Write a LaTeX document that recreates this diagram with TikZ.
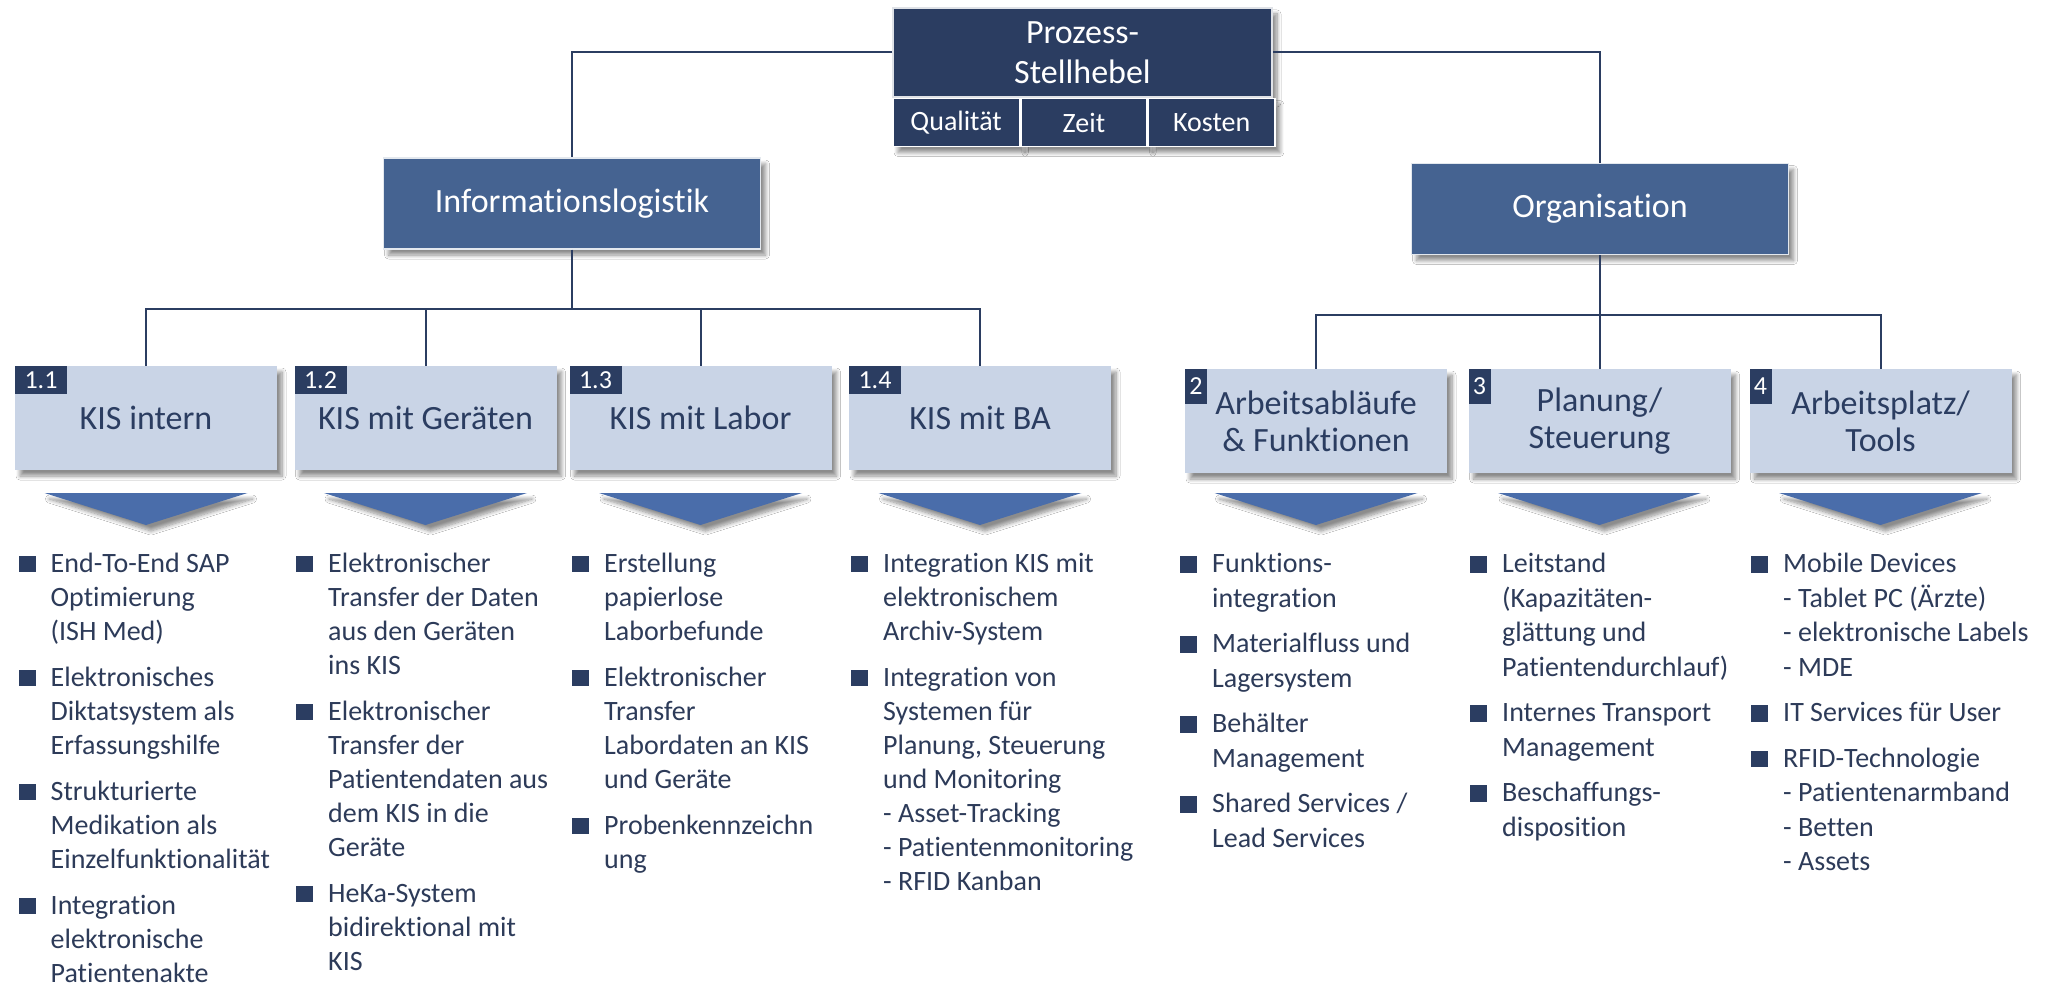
\documentclass[tikz,border=0pt]{standalone}
\usepackage{fontspec}
\setmainfont{Carlito}[Ligatures=NoCommon]
\usetikzlibrary{shadows,shadows.blur}
\definecolor{NavyClr}{RGB}{43,61,97}
\definecolor{MidClr}{RGB}{69,99,145}
\definecolor{LightClr}{RGB}{201,212,230}
\definecolor{ChevClr}{RGB}{74,109,170}
\definecolor{TextClr}{RGB}{45,59,89}

\newcommand{\bul}{\llap{\textcolor{NavyClr}{\rule{17pt}{16.5pt}}\hspace{15pt}}}
\newcommand{\listfont}{\fontsize{28pt}{34pt}\selectfont}
\newcommand{\listfontr}{\fontsize{28pt}{34.5pt}\selectfont}

\begin{document}
\begin{tikzpicture}[x=1pt,y=-1pt,
  boxshadow/.style={blur shadow={shadow xshift=5pt,shadow yshift=-6pt,shadow blur radius=4pt,
    shadow blur steps=8,shadow opacity=45}},
  headbox/.style={fill=NavyClr,draw=white!85!NavyClr,line width=1.5pt,text=white,align=center,
    font=\fontsize{34pt}{40pt}\selectfont,inner sep=0pt,minimum width=379pt,minimum height=89pt,boxshadow},
  cellbox/.style={fill=NavyClr,draw=white,line width=1.5pt,text=white,anchor=north west,
    font=\fontsize{28pt}{34pt}\selectfont,inner sep=0pt,minimum width=126.3pt,minimum height=48pt,boxshadow},
  mainbox/.style={fill=MidClr,draw=white!85!MidClr,line width=1.5pt,text=white,
    font=\fontsize{34pt}{40pt}\selectfont,minimum width=377pt,minimum height=91pt,boxshadow},
  subbox/.style={fill=LightClr,text=NavyClr,align=center,
    font=\fontsize{34pt}{37pt}\selectfont,minimum width=262pt,minimum height=104pt,boxshadow},
  badge/.style={fill=NavyClr,text=white,anchor=north west,inner sep=0pt,
    font=\fontsize{26pt}{28pt}\selectfont},
  conn/.style={draw=NavyClr,line width=2pt},
  chev/.style={fill=ChevClr,boxshadow},
  lst/.style={anchor=north west,align=left,inner sep=0pt,text=TextClr,font=\listfont},
  lstr/.style={lst,font=\listfontr}]

\path[use as bounding box,fill=white] (0,0) rectangle (2057,987);

\node[headbox] (head) at (1082.5,52.5) {Prozess-\\Stellhebel};
\node[cellbox] (qual) at (head.south west) {Qualität};
\node[cellbox] (zeit) at (qual.north east) {Zeit};
\node[cellbox] (kost) at (zeit.north east) {Kosten};

\node[mainbox] (info) at (572,203.5) {Informationslogistik};
\node[mainbox] (org) at (1600,209) {Organisation};

\node[subbox] (k11) at (146,418) {KIS intern};
\node[subbox] (k12) at (425.5,418) {KIS mit Geräten};
\node[subbox] (k13) at (700.5,418) {KIS mit Labor};
\node[subbox] (k14) at (980,418) {KIS mit BA};
\node[subbox] (ab) at (1316,421) {Arbeitsabläufe\\\& Funktionen};
\node[subbox] (pl) at (1599.5,421) {Planung/\\Steuerung};
\node[subbox] (ap) at (1880.5,421) {Arbeitsplatz/\\Tools};

\node[badge,minimum width=52pt,minimum height=28pt] (b11) at (k11.north west) {1.1};
\node[badge,minimum width=52pt,minimum height=28pt] (b12) at (k12.north west) {1.2};
\node[badge,minimum width=52pt,minimum height=28pt] (b13) at (k13.north west) {1.3};
\node[badge,minimum width=52pt,minimum height=28pt] (b14) at (k14.north west) {1.4};
\node[badge,minimum width=22pt,minimum height=35pt] (b2) at (ab.north west) {2};
\node[badge,minimum width=22pt,minimum height=35pt] (b3) at (pl.north west) {3};
\node[badge,minimum width=22pt,minimum height=35pt] (b4) at (ap.north west) {4};

\draw[conn] (head.west) -| (info.north);
\draw[conn] (head.east) -| (org.north);
\draw[conn] (info.south) -- ++(0,59) coordinate (ibar);
\foreach \n in {k11,k12,k13,k14}
  \draw[conn] (ibar) -| (\n.north);
\draw[conn] (org.south) -- ++(0,60) coordinate (obar);
\foreach \n in {ab,pl,ap}
  \draw[conn] (obar) -| (\n.north);

\coordinate (chevtop) at (0,493);
\foreach \n in {k11,k12,k13,k14,ab,pl,ap}
  \fill[chev] (\n.south |- chevtop) ++(-101.5,0) -- ++(203,0) -- ++(-101.5,32) -- cycle;

\node[lst] (l11) at (50.5,548) {\bul\strut End-To-End SAP\\Optimierung\\(ISH Med)\\[12pt]
  \bul Elektronisches\\Diktatsystem als\\Erfassungshilfe\\[12pt]
  \bul Strukturierte\\Medikation als\\Einzelfunktionalität\\[12pt]
  \bul Integration\\elektronische\\Patientenakte};
\node[lst] (l12) at (328,548) {\bul\strut Elektronischer\\Transfer der Daten\\aus den Geräten\\ins KIS\\[12pt]
  \bul Elektronischer\\Transfer der\\Patientendaten aus\\dem KIS in die\\Geräte\\[12pt]
  \bul HeKa-System\\bidirektional mit\\KIS};
\node[lst] (l13) at (604,548) {\bul\strut Erstellung\\papierlose\\Laborbefunde\\[12pt]
  \bul Elektronischer\\Transfer\\Labordaten an KIS\\und Geräte\\[12pt]
  \bul Probenkennzeichn\\ung};
\node[lst] (l14) at (883,548) {\bul\strut Integration KIS mit\\elektronischem\\Archiv-System\\[12pt]
  \bul Integration von\\Systemen für\\Planung, Steuerung\\und Monitoring\\- Asset-Tracking\\- Patientenmonitoring\\- RFID Kanban};
\node[lstr] (l2) at (1212,548.5) {\bul\strut Funktions-\\integration\\[11pt]
  \bul Materialfluss und\\Lagersystem\\[11pt]
  \bul Behälter\\Management\\[11pt]
  \bul Shared Services /\\Lead Services};
\node[lstr] (l3) at (1502,548.5) {\bul\strut Leitstand\\(Kapazitäten-\\glättung und\\Patientendurchlauf)\\[11pt]
  \bul Internes Transport\\Management\\[11pt]
  \bul Beschaffungs-\\disposition};
\node[lstr] (l4) at (1783,548.5) {\bul\strut Mobile Devices\\- Tablet PC (Ärzte)\\- elektronische Labels\\- MDE\\[11pt]
  \bul IT Services für User\\[11pt]
  \bul RFID-Technologie\\- Patientenarmband\\- Betten\\- Assets};

\end{tikzpicture}
\end{document}
